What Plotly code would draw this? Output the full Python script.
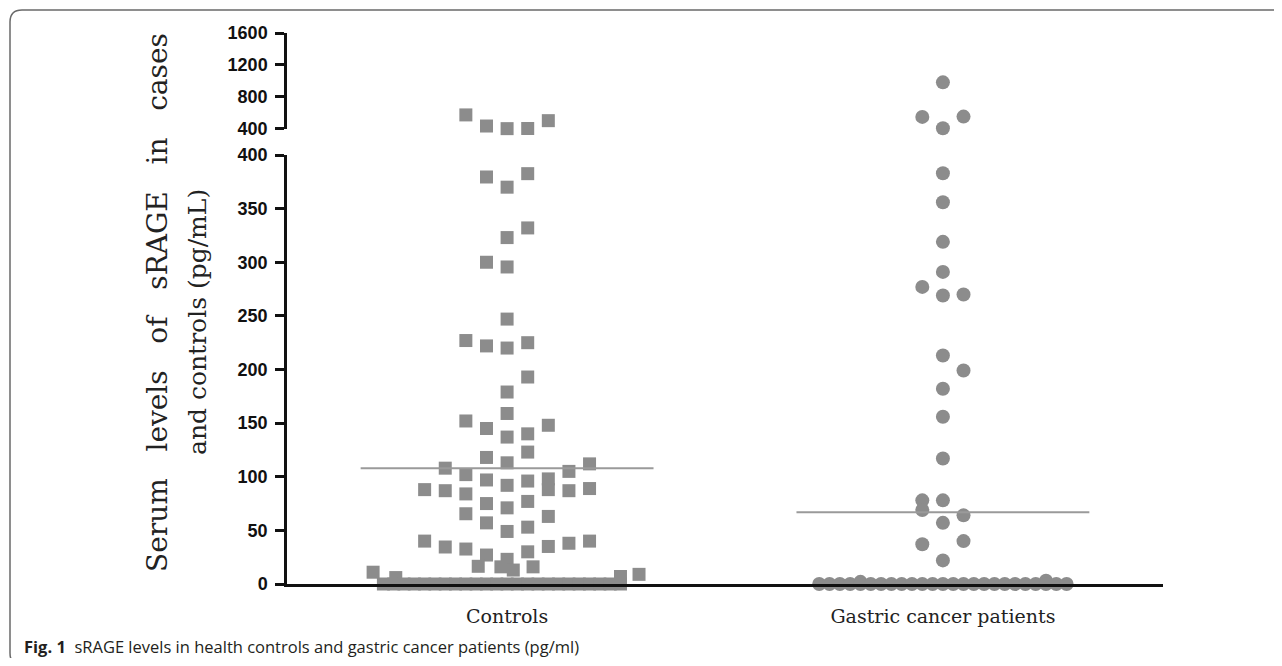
import plotly.graph_objects as go

# ---------------- data ----------------
categories = ["Controls", "Gastric cancer patients"]

controls_values = [
    574, 435, 402, 404, 502,
    379.5, 370, 382.6, 332, 323, 300, 295.6,
    247, 227, 222, 220, 225, 193, 179, 159,
    152, 145, 148, 137, 140, 123, 118, 113,
    108, 105, 112, 102, 97, 92, 96, 98, 88,
    88, 87, 84, 87, 89,
    75, 71, 77, 65.5, 57, 49, 53, 63,
    40, 34.5, 32.6, 27, 23, 30, 35, 38, 40,
    16.5, 16, 13, 16,
    11, 6, 7, 9,
    0, 0, 0, 0, 0, 0, 0, 0, 0, 0, 0, 0,
    0, 0, 0, 0, 0, 0, 0, 0, 0, 0, 0, 0,
]
controls_dodge = [
    -2, -1, 0, 1, 2,
    -1, 0, 1, 1, 0, -1, 0,
    0, -2, -1, 0, 1, 1, 0, 0,
    -2, -1, 2, 0, 1, 1, -1, 0,
    -3, 3, 4, -2, -1, 0, 1, 2, 2,
    -4, -3, -2, 3, 4,
    -1, 0, 1, -2, -1, 0, 1, 2,
    -4, -3, -2, -1, 0, 1, 2, 3, 4,
    -1.4, -0.3, 0.3, 1.26,
    -6.5, -5.4, 5.5, 6.4,
    -6, -5.5, -5, -4.5, -4, -3.5, -3, -2.5, -2, -1.5, -1, -0.5,
    0, 0.5, 1, 1.5, 2, 2.5, 3, 3.5, 4, 4.5, 5, 5.5,
]

gastric_values = [
    982, 549, 553, 406,
    383, 356, 319, 291, 277, 269, 270,
    213, 199, 182, 156, 117,
    78, 69, 78, 64, 57, 37, 40, 22,
    2, 3,
    0, 0, 0, 0, 0, 0, 0, 0, 0, 0, 0, 0, 0,
    0, 0, 0, 0, 0, 0, 0, 0, 0, 0, 0, 0,
]
gastric_dodge = [
    0, -1, 1, 0,
    0, 0, 0, 0, -1, 0, 1,
    0, 1, 0, 0, 0,
    -1, -1, 0, 1, 0, -1, 1, 0,
    -4, 5,
    -6, -5.5, -5, -4.5, -4, -3.5, -3, -2.5, -2, -1.5, -1, -0.5, 0,
    0.5, 1, 1.5, 2, 2.5, 3, 3.5, 4, 4.5, 5, 5.5, 6,
]

medians = [108, 67]

lower_ticks = [0, 50, 100, 150, 200, 250, 300, 350, 400]
upper_ticks = [400, 800, 1200, 1600]
axis_break = 400

# ---------------- geometry helpers (layout only) ----------------
W, H = 1266, 650
ML, MR, MT, MB = 279, 111, 25, 74
PW, PH = W - ML - MR, H - MT - MB
OFF = 8  # page body margin


def px(x):
    return (x - OFF - ML) / PW


def py(y):
    return (H - MB - (y - OFF)) / PH


STEP = 0.0473
HALF = 0.336
GREY = "#8c8c8c"

fig = go.Figure()

groups = [
    (controls_values, controls_dodge, "square", 13),
    (gastric_values, gastric_dodge, "circle", 14),
]
for gi, (vals, dodge, sym, size) in enumerate(groups):
    lo_x = [gi + d * STEP for v, d in zip(vals, dodge) if v <= axis_break]
    lo_y = [v for v in vals if v <= axis_break]
    hi_x = [gi + d * STEP for v, d in zip(vals, dodge) if v > axis_break]
    hi_y = [v for v in vals if v > axis_break]
    fig.add_trace(go.Scatter(x=lo_x, y=lo_y, mode="markers", xaxis="x", yaxis="y",
                             cliponaxis=False, showlegend=False,
                             marker=dict(symbol=sym, size=size, color=GREY, line=dict(width=0))))
    fig.add_trace(go.Scatter(x=hi_x, y=hi_y, mode="markers", xaxis="x", yaxis="y2",
                             cliponaxis=False, showlegend=False,
                             marker=dict(symbol=sym, size=size, color=GREY, line=dict(width=0))))
    fig.add_trace(go.Scatter(x=[gi - HALF, gi + HALF], y=[medians[gi], medians[gi]],
                             mode="lines", xaxis="x", yaxis="y", showlegend=False,
                             cliponaxis=False,
                             line=dict(color="#9a9a9a", width=2)))

axis_common = dict(showline=True, linecolor="#111111", linewidth=2.5,
                   ticks="outside", ticklen=9, tickwidth=2.5, tickcolor="#111111",
                   showgrid=False, zeroline=False,
                   tickfont=dict(family="Liberation Sans", size=18, color="#111111", weight="bold"),
                   ticklabelstandoff=4)

fig.update_layout(
    width=W, height=H,
    margin=dict(l=ML, r=MR, t=MT, b=MB),
    paper_bgcolor="white", plot_bgcolor="white",
    xaxis=dict(range=[-0.505, 1.505], showline=True, linecolor="#111111", linewidth=2.5,
               tickvals=[0, 1], ticktext=categories, ticks="", showgrid=False, zeroline=False,
               tickfont=dict(family="DejaVu Serif", size=19, color="#222222"),
               ticklabelstandoff=13, anchor="y"),
    yaxis=dict(domain=[0, py(155)], range=[0, 400], tickvals=lower_ticks, anchor="x", **axis_common),
    yaxis2=dict(domain=[py(128.8), 1.0], range=[400, 1600], tickvals=upper_ticks, anchor="x", **axis_common),
)

sp = "\u00a0" * 3
fig.add_annotation(text=sp.join(["Serum", "levels", "of", "sRAGE", "in", "cases"]),
                   xref="paper", yref="paper", x=px(157), y=py(303), textangle=-90,
                   showarrow=False, xanchor="center", yanchor="middle",
                   font=dict(family="DejaVu Serif", size=28, color="#222222"))
fig.add_annotation(text="and controls (pg/mL)",
                   xref="paper", yref="paper", x=px(197), y=py(322), textangle=-90,
                   showarrow=False, xanchor="center", yanchor="middle",
                   font=dict(family="DejaVu Serif", size=25, color="#222222"))
fig.add_annotation(text="<b>Fig. 1</b>  sRAGE levels in health controls and gastric cancer patients (pg/ml)",
                   xref="paper", yref="paper", x=px(22), y=py(646), showarrow=False,
                   xanchor="left", yanchor="middle",
                   font=dict(family="Open Sans", size=16.5, color="#231f20"))

# rounded frame
x0, x1, y0, y1 = px(10), px(1300), py(10), py(665)
path = (f"M {x1},{y0} L {px(22)},{y0} Q {x0},{y0} {x0},{py(22)} "
        f"L {x0},{py(653)} Q {x0},{y1} {px(22)},{y1} L {x1},{y1}")
fig.add_shape(type="path", path=path, xref="paper", yref="paper",
              line=dict(color="#6a6a6a", width=1.5))

fig.write_html("out.html")
